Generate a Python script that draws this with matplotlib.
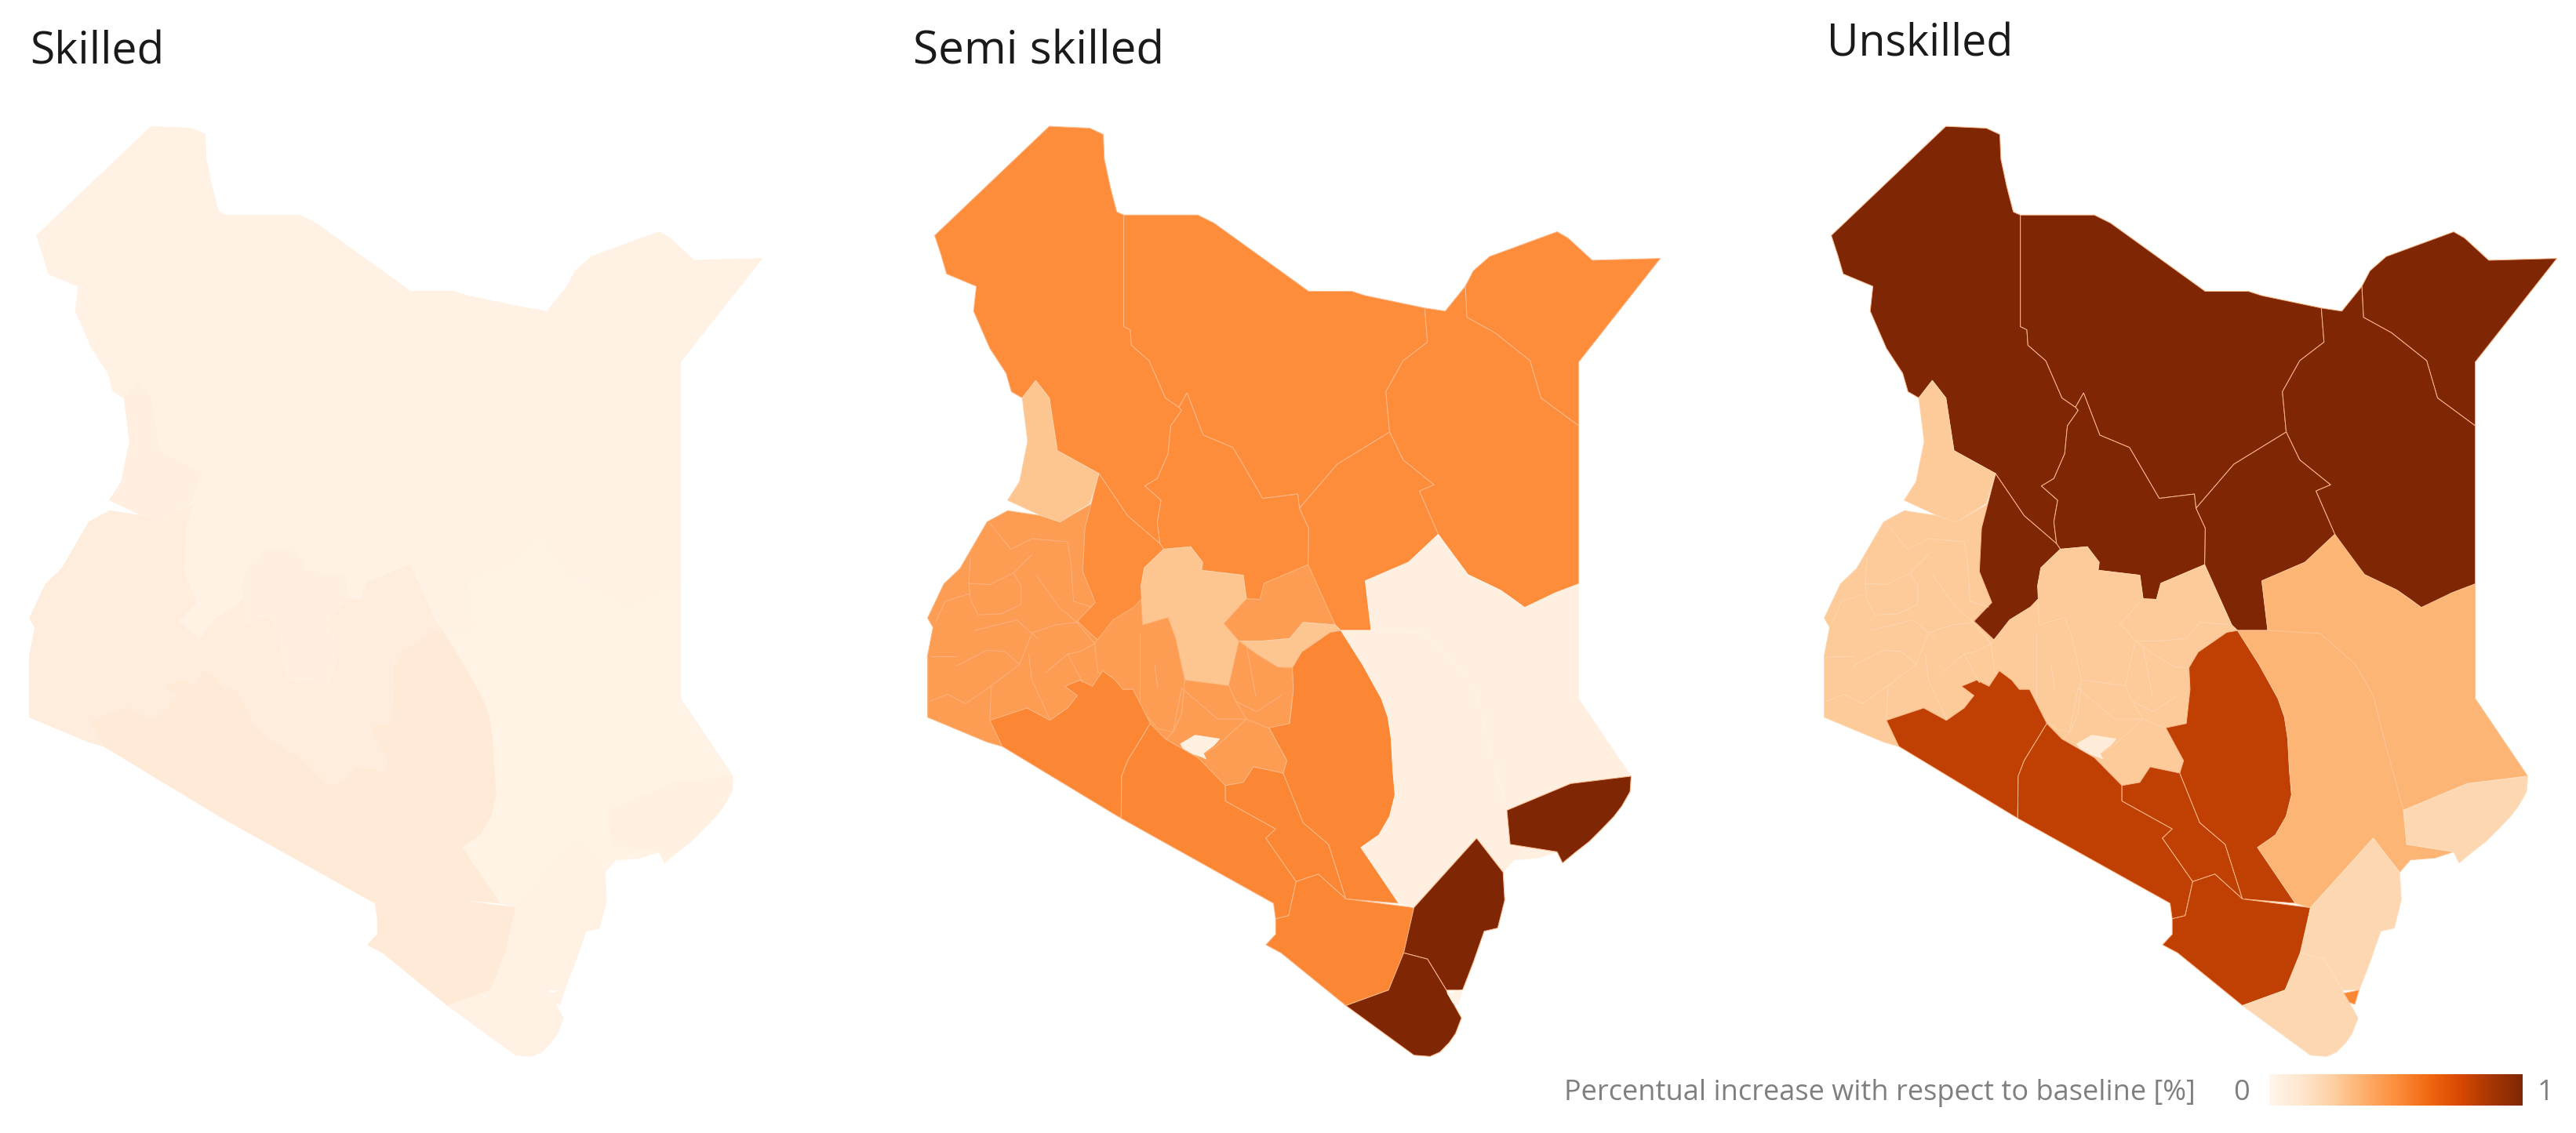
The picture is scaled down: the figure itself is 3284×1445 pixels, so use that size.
"""Kenya county maps of the percentual increase per skill level."""
import matplotlib

matplotlib.use("Agg")
import matplotlib.pyplot as plt
from matplotlib.cm import ScalarMappable
from matplotlib.colors import Normalize
from matplotlib.patches import Polygon

plt.rcParams["font.family"] = ["Open Sans", "DejaVu Sans"]

PANELS = ["Skilled", "Semi skilled", "Unskilled"]
LEGEND_LABEL = "Percentual increase with respect to baseline [%]"

# drawing order matters: west sits under its neighbours
REGIONS = ["West", "Turkana", "Marsabit", "Mandera", "Wajir", "Isiolo", "Samburu", "Baringo",
           "West Pokot", "Laikipia", "Meru", "Tharaka", "Nakuru", "Embu", "Kiambu", "Machakos",
           "Nairobi", "Narok", "Kajiado", "Makueni", "Kitui", "Taita Taveta", "Garissa",
           "Tana River", "Lamu", "Kilifi", "Kwale", "Mombasa"]

SKILLED = [0.07, 0.03, 0.03, 0.03, 0.03, 0.03, 0.03, 0.035, 0.05, 0.05, 0.07, 0.07, 0.07, 0.07,
           0.07, 0.07, 0.06, 0.09, 0.09, 0.09, 0.09, 0.09, 0.02, 0.02, 0.04, 0.035, 0.035, 0.03]
SEMI_SKILLED = [0.44, 0.50, 0.50, 0.50, 0.50, 0.50, 0.50, 0.50, 0.29, 0.29, 0.44, 0.29, 0.44, 0.44,
                0.44, 0.44, 0.04, 0.52, 0.52, 0.52, 0.52, 0.52, 0.05, 0.05, 1.0, 1.0, 1.0, 0.02]
UNSKILLED = [0.27, 1.0, 1.0, 1.0, 1.0, 1.0, 1.0, 1.0, 0.27, 0.27, 0.27, 0.27, 0.27, 0.27,
             0.27, 0.27, 0.08, 0.81, 0.81, 0.81, 0.81, 0.81, 0.35, 0.35, 0.21, 0.21, 0.21, 0.52]

# outlines, in map units
OUTLINES = {
    "West": [(120, 1005), (120, 905), (130, 860), (120, 845), (150, 790), (180, 765), (230, 690), (268, 672),
             (330, 680), (365, 690), (425, 660), (445, 770), (440, 880), (515, 815), (700, 900), (780, 1020),
             (770, 1090), (671, 1118), (620, 1075), (560, 1045), (530, 1018), (500, 965), (400, 1010),
             (258, 1052), (230, 1045)],
    "Turkana": [(133, 228), (345, 52), (420, 55), (445, 65), (447, 105), (458, 150), (470, 190), (483, 195),
                (483, 375), (495, 380), (497, 405), (530, 430), (560, 490), (585, 505), (590, 510), (570, 535),
                (565, 580), (545, 620), (522, 632), (552, 655), (545, 690), (550, 725), (490, 680), (437, 612),
                (360, 575), (345, 490), (320, 462), (295, 490), (275, 480), (265, 450), (235, 410), (205, 350),
                (210, 310), (155, 290), (145, 260)],
    "Marsabit": [(483, 195), (620, 195), (650, 208), (825, 318), (905, 318), (930, 325), (1040, 345), (1045, 400),
                 (1000, 430), (968, 480), (975, 545), (878, 597), (808, 668), (805, 645), (740, 652), (685, 570),
                 (630, 550), (600, 482), (585, 505), (560, 490), (530, 430), (497, 405), (495, 380), (483, 375)],
    "Mandera": [(1115, 310), (1130, 285), (1160, 262), (1285, 222), (1305, 232), (1350, 268), (1476, 265),
                (1325, 432), (1325, 535), (1255, 490), (1235, 430), (1170, 385), (1118, 360)],
    "Wajir": [(1040, 345), (1078, 350), (1115, 310), (1118, 360), (1170, 385), (1235, 430), (1255, 490), (1325, 535),
              (1325, 790), (1280, 805), (1255, 820), (1225, 828), (1205, 815), (1180, 800), (1120, 775), (1090, 745),
              (1065, 710), (1030, 640), (1057, 630), (1000, 590), (975, 545), (968, 480), (1000, 430), (1045, 400)],
    "Isiolo": [(808, 668), (878, 597), (975, 545), (1000, 590), (1057, 630), (1030, 640), (1065, 710), (1010, 755),
               (930, 785), (941, 865), (885, 865), (874, 856), (824, 759), (825, 700)],
    "Samburu": [(600, 482), (630, 550), (685, 570), (740, 652), (805, 645), (808, 668), (825, 700), (824, 759),
                (743, 789), (735, 815), (710, 814), (704, 776), (627, 768), (607, 730), (557, 734), (550, 725),
                (545, 690), (552, 655), (522, 632), (545, 620), (565, 580), (570, 535), (590, 510), (585, 505)],
    "Baringo": [(437, 612), (490, 680), (550, 725), (557, 734), (521, 764), (515, 793), (518, 820), (467, 850),
                (434, 880), (397, 850), (430, 820), (407, 770), (411, 700)],
    "West Pokot": [(320, 462), (345, 490), (360, 575), (437, 612), (420, 660), (365, 690), (330, 680), (268, 655),
                   (290, 625), (305, 560), (295, 490)],
    "Laikipia": [(557, 734), (607, 730), (629, 755), (627, 768), (704, 776), (710, 814), (668, 854), (696, 882),
                 (677, 954), (596, 945), (579, 878), (565, 844), (518, 856), (515, 793), (521, 764)],
    "Meru": [(710, 814), (735, 815), (743, 789), (824, 759), (874, 856), (815, 852), (790, 878), (740, 882),
             (696, 882), (668, 854)],
    "Tharaka": [(696, 882), (740, 882), (790, 878), (815, 852), (874, 856), (885, 866), (812, 900), (795, 925),
                (768, 924), (729, 903)],
    "Nakuru": [(518, 856), (565, 844), (579, 878), (596, 945), (590, 1000), (574, 1029), (546, 1023), (501, 979),
               (463, 945), (435, 932), (429, 886), (463, 848), (502, 827), (515, 815)],
    "Embu": [(696, 882), (729, 903), (768, 924), (795, 925), (797, 960), (788, 1021), (752, 1023), (710, 1008),
             (690, 979), (677, 954)],
    "Kiambu": [(596, 945), (677, 954), (690, 979), (710, 1008), (657, 1050), (640, 1085), (596, 1060), (560, 1042),
               (574, 1029), (590, 1000)],
    "Machakos": [(710, 1008), (752, 1023), (785, 1075), (778, 1095), (723, 1085), (704, 1110), (671, 1115),
                 (620, 1070), (657, 1050)],
    "Nairobi": [(588, 1048), (615, 1034), (660, 1040), (650, 1050), (630, 1063), (635, 1072), (625, 1068),
                (596, 1060)],
    "Narok": [(235, 1010), (304, 990), (346, 1010), (379, 990), (397, 970), (374, 955), (402, 945), (425, 955),
              (444, 930), (467, 945), (481, 960), (500, 960), (532, 1015), (490, 1075), (479, 1100), (478, 1168),
              (258, 1052)],
    "Kajiado": [(532, 1015), (560, 1040), (620, 1070), (671, 1115), (671, 1140), (764, 1185), (746, 1200), (802, 1270),
                (788, 1325), (764, 1330), (760, 1305), (478, 1168), (479, 1100), (490, 1075)],
    "Makueni": [(671, 1115), (704, 1110), (723, 1085), (778, 1095), (815, 1175), (862, 1210), (894, 1298), (843, 1258),
                (802, 1270), (746, 1200), (764, 1185), (671, 1140)],
    "Kitui": [(865, 868), (885, 865), (925, 920), (960, 975), (972, 1005), (978, 1040), (981, 1090), (985, 1130),
              (975, 1165), (955, 1195), (922, 1215), (992, 1305), (894, 1298), (862, 1210), (815, 1175), (778, 1095),
              (785, 1075), (752, 1022), (790, 1015), (797, 960), (795, 925), (812, 900)],
    "Taita Taveta": [(802, 1270), (843, 1258), (894, 1298), (1020, 1312), (1001, 1395), (973, 1445), (894, 1470),
                     (774, 1385), (746, 1372), (764, 1355), (764, 1330), (788, 1325)],
    "Garissa": [(941, 865), (930, 785), (1010, 755), (1065, 710), (1120, 775), (1180, 800), (1225, 828), (1280, 805),
                (1325, 790), (1325, 975), (1422, 1100), (1310, 1112), (1192, 1155), (1159, 1050), (1136, 970),
                (1103, 920), (1038, 870)],
    "Tana River": [(885, 865), (941, 865), (1038, 870), (1103, 920), (1136, 970), (1159, 1050), (1192, 1155),
                   (1198, 1210), (1285, 1222), (1250, 1232), (1205, 1235), (1185, 1255), (1136, 1200), (1020, 1312),
                   (992, 1305), (922, 1215), (955, 1195), (975, 1165), (985, 1130), (981, 1090), (978, 1040),
                   (972, 1005), (960, 975), (925, 920)],
    "Lamu": [(1192, 1155), (1310, 1112), (1422, 1100), (1420, 1125), (1405, 1148), (1390, 1165), (1368, 1185),
             (1345, 1205), (1320, 1222), (1295, 1240), (1285, 1222), (1198, 1210)],
    "Kilifi": [(1136, 1200), (1185, 1255), (1188, 1300), (1175, 1345), (1150, 1350), (1130, 1400), (1110, 1445),
               (1080, 1445), (1045, 1395), (1001, 1385), (1020, 1312)],
    "Kwale": [(1001, 1385), (1045, 1395), (1080, 1445), (1082, 1450), (1092, 1465), (1108, 1490), (1097, 1515),
              (1085, 1530), (1068, 1545), (1050, 1552), (1020, 1550), (894, 1470), (973, 1445)],
    "Mombasa": [(1082, 1450), (1110, 1445), (1102, 1468), (1092, 1465)],
}

# county borders inside the western and central clusters
INNER_BORDERS = [
    [(235, 692), (274, 734), (313, 717), (379, 722), (385, 755), (390, 818), (424, 827)],
    [(199, 747), (196, 789), (235, 791), (279, 772), (313, 743)],
    [(279, 772), (293, 793), (293, 823), (257, 838), (213, 840), (199, 814), (196, 789)],
    [(127, 907), (174, 907)],
    [(174, 922), (229, 897), (263, 899), (290, 920), (313, 869), (357, 856), (396, 852)],
    [(124, 979), (157, 968), (190, 983), (238, 954), (290, 920)],
    [(238, 954), (235, 1008)],
    [(135, 852), (152, 818), (196, 806)],
    [(207, 865), (285, 848), (324, 878)],
    [(321, 776), (363, 827), (396, 852)],
    [(307, 903), (313, 945), (346, 1008)],
    [(379, 903), (407, 949)],
    [(396, 852), (429, 886), (402, 899), (379, 903), (340, 932)],
    [(513, 869), (513, 979)],
    [(540, 920), (546, 958)],
    [(710, 890), (727, 970)],
    [(690, 979), (729, 996), (774, 970)],
    [(590, 958), (657, 1008), (710, 1008)],
    [(574, 1029), (590, 958)],
]

FIG_W, FIG_H = 3284, 1445
MAP_X = [-45, 1100, 2243]  # left pixel of each panel's map frame
MAP_Y = 120
MAP_SCALE_X = 1080 / 1568
MAP_SCALE_Y = 1240 / 1568
TITLE_POS = [(38, 81), (1164, 81), (2329, 72)]
TITLE_SIZE = [41, 42, 40]

cmap = plt.get_cmap("Oranges")
norm = Normalize(0, 1)


def pixel_axes(fig, x, y, w, h):
    """Axes placed by pixel box, with y counted from the top of the figure."""
    return fig.add_axes([x / FIG_W, 1 - (y + h) / FIG_H, w / FIG_W, h / FIG_H])


def edge_color(value, face):
    """Pale borders: strong on the dark counties, almost gone on the light ones."""
    if value > 0.47:
        return "#fdb98a"
    return tuple(c + (1 - c) * 0.22 for c in face[:3])


def draw_map(fig, left, values, border_color=None):
    ax = pixel_axes(fig, left + 40, MAP_Y, (1568 - 40 / MAP_SCALE_X) * MAP_SCALE_X, 1568 * MAP_SCALE_Y)
    ax.set_xlim(40 / MAP_SCALE_X, 1568)
    ax.set_ylim(1568, 0)
    ax.set_axis_off()

    for name, value in zip(REGIONS, values):
        face = cmap(norm(value))
        edge = edge_color(value, face) if border_color else face
        ax.add_patch(Polygon(OUTLINES[name], closed=True, facecolor=face, edgecolor=edge,
                             linewidth=0.7, joinstyle="round"))
    if border_color:
        for border in INNER_BORDERS:
            ax.plot(*zip(*border), color=border_color, linewidth=0.7, solid_joinstyle="round")


fig = plt.figure(figsize=(FIG_W / 100, FIG_H / 100), dpi=100, facecolor="white")

draw_map(fig, MAP_X[0], SKILLED)
draw_map(fig, MAP_X[1], SEMI_SKILLED, border_color="#fdb284")
draw_map(fig, MAP_X[2], UNSKILLED, border_color="#fdd8b5")

for title, size, (tx, ty) in zip(PANELS, TITLE_SIZE, TITLE_POS):
    fig.text(tx / FIG_W, 1 - ty / FIG_H, title, fontsize=size, color="#1a1a1a", ha="left", va="baseline")

# colour legend, bottom right
cax = pixel_axes(fig, 2893, 1370, 323, 40)
bar = fig.colorbar(ScalarMappable(norm=norm, cmap=cmap), cax=cax, orientation="horizontal")
bar.outline.set_visible(False)
bar.set_ticks([])
fig.text(1994 / FIG_W, 1 - 1403 / FIG_H, LEGEND_LABEL, fontsize=26, color="#7f7f7f", va="baseline")
fig.text(2857 / FIG_W, 1 - 1403 / FIG_H, "0", fontsize=26, color="#7f7f7f", ha="center", va="baseline")
fig.text(3245 / FIG_W, 1 - 1403 / FIG_H, "1", fontsize=26, color="#7f7f7f", ha="center", va="baseline")

fig.savefig("out.png", dpi=100)
